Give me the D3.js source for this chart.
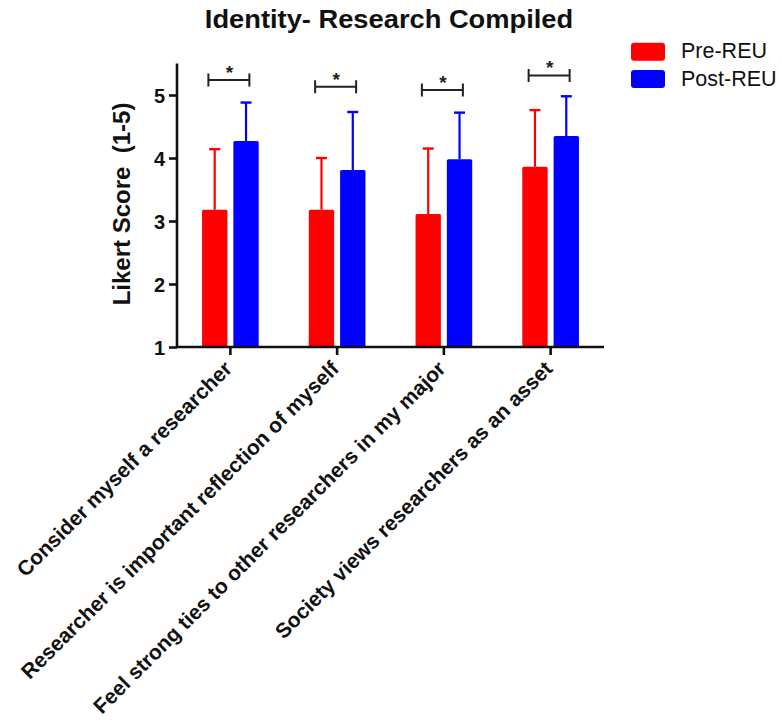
<!DOCTYPE html>
<html>
<head>
<meta charset="utf-8">
<script src="https://cdn.jsdelivr.net/npm/d3@7"></script>
<style>
  html, body { margin: 0; padding: 0; background: #fff; }
  svg { display: block; font-family: Arial, "Liberation Sans", sans-serif; }
</style>
</head>
<body>
<svg id="chart" width="782" height="724"></svg>
<script>
// Survey items (x categories)
const categories = [
  "Consider myself a researcher",
  "Researcher is important reflection of myself",
  "Feel strong ties to other researchers in my major",
  "Society views researchers as an asset"
];
const seriesNames = ["Pre-REU", "Post-REU"];
const seriesColors = ["#ff0000", "#0000ff"];

// Mean Likert scores and standard deviations
const preMean = [3.18, 3.18, 3.11, 3.86];
const preSD   = [0.96, 0.82, 1.04, 0.90];
const postMean = [4.27, 3.81, 3.98, 4.35];
const postSD   = [0.61, 0.92, 0.74, 0.63];

// Significance bracket heights (in score units) and labels
const bracketLevel = [5.24, 5.13, 5.08, 5.31];
const bracketLabel = ["*", "*", "*", "*"];

const yTicks = [1, 2, 3, 4, 5];

const svg = d3.select("#chart");

const plot = { left: 177, right: 604, top: 63.5, bottom: 347 };

const y = d3.scaleLinear().domain([1, 5.5]).range([plot.bottom, plot.top]);
const x = d3.scaleBand().domain(categories).range([plot.left, plot.right]).padding(0);
const xs = d3.scaleBand().domain(seriesNames).range([0, x.bandwidth()])
  .paddingInner(0.19).paddingOuter(0.8);

const rows = categories.map((c, i) => ({
  cat: c,
  values: [
    { s: seriesNames[0], mean: preMean[i], sd: preSD[i], color: seriesColors[0] },
    { s: seriesNames[1], mean: postMean[i], sd: postSD[i], color: seriesColors[1] }
  ]
}));

// Title
svg.append("text")
  .attr("transform", "translate(389,28) scale(1.05,1)")
  .attr("text-anchor", "middle")
  .attr("font-size", 26).attr("font-weight", "bold").attr("fill", "#111")
  .text("Identity- Research Compiled");

// Bars and upper error bars
const groups = svg.append("g").selectAll("g").data(rows).join("g")
  .attr("transform", d => `translate(${x(d.cat)},0)`);

groups.selectAll("line.err").data(d => d.values).join("line")
  .attr("class", "err")
  .attr("x1", d => xs(d.s) + xs.bandwidth() / 2)
  .attr("x2", d => xs(d.s) + xs.bandwidth() / 2)
  .attr("y1", d => y(d.mean))
  .attr("y2", d => y(d.mean + d.sd))
  .attr("stroke", d => d.color).attr("stroke-width", 2.2);

groups.selectAll("line.cap").data(d => d.values).join("line")
  .attr("class", "cap")
  .attr("x1", d => xs(d.s) + xs.bandwidth() / 2 - 5.5)
  .attr("x2", d => xs(d.s) + xs.bandwidth() / 2 + 5.5)
  .attr("y1", d => y(d.mean + d.sd))
  .attr("y2", d => y(d.mean + d.sd))
  .attr("stroke", d => d.color).attr("stroke-width", 2.4);

groups.selectAll("rect").data(d => d.values).join("rect")
  .attr("x", d => xs(d.s))
  .attr("width", xs.bandwidth())
  .attr("y", d => y(d.mean))
  .attr("height", d => y(1) - y(d.mean))
  .attr("rx", 1.5)
  .attr("fill", d => d.color);

// Significance brackets
const br = svg.append("g").selectAll("g").data(categories).join("g")
  .attr("transform", (d, i) => `translate(${x(d) + x.bandwidth() / 2},${y(bracketLevel[i])})`);
br.append("path")
  .attr("d", "M-22,-6.5V6.5M-22,0H19M19,-6.5V6.5")
  .attr("fill", "none").attr("stroke", "#222").attr("stroke-width", 2);
br.append("text")
  .attr("x", -1).attr("y", -1)
  .attr("text-anchor", "middle")
  .attr("font-size", 19).attr("font-weight", "bold")
  .attr("fill", "#222")
  .text((d, i) => bracketLabel[i]);

// Y axis
const yAxis = svg.append("g")
  .attr("transform", `translate(${plot.left},0)`)
  .call(d3.axisLeft(y).tickValues(yTicks).tickFormat(d3.format("d")).tickSize(8).tickPadding(4));
yAxis.select(".domain").attr("stroke", "#111").attr("stroke-width", 2.6)
  .attr("d", `M0,${plot.top}V${plot.bottom}`);
yAxis.selectAll(".tick line").attr("stroke", "#111").attr("stroke-width", 2.6);
yAxis.selectAll(".tick text")
  .attr("font-family", "Arial, 'Liberation Sans', sans-serif")
  .attr("font-size", 20).attr("font-weight", "bold").attr("fill", "#111")
  .attr("dy", "0.36em");

// X axis
const xAxis = svg.append("g")
  .attr("transform", `translate(0,${plot.bottom})`)
  .call(d3.axisBottom(x).tickSize(8).tickFormat(""));
xAxis.select(".domain").attr("stroke", "#111").attr("stroke-width", 2.6)
  .attr("d", `M${plot.left},0H${plot.right}`);
xAxis.selectAll(".tick line").attr("stroke", "#111").attr("stroke-width", 2.6);

// Rotated category labels
svg.append("g").selectAll("text").data(categories).join("text")
  .attr("transform", d => `translate(${x(d) + x.bandwidth() / 2 + 3},${plot.bottom + 23}) rotate(-45)`)
  .attr("text-anchor", "end")
  .attr("font-size", 21).attr("font-weight", "bold").attr("fill", "#111")
  .text(d => d);

// Y axis title
svg.append("text")
  .attr("transform", `translate(130,204) rotate(-90)`)
  .attr("text-anchor", "middle")
  .attr("font-size", 24).attr("font-weight", "bold").attr("fill", "#111")
  .style("white-space", "pre")
  .text("Likert Score  (1-5)");

// Legend
const legend = svg.append("g").selectAll("g").data(seriesNames).join("g")
  .attr("transform", (d, i) => `translate(631,${42.7 + i * 27.3})`);
legend.append("rect")
  .attr("width", 34).attr("height", 18).attr("rx", 3)
  .attr("fill", (d, i) => seriesColors[i]);
legend.append("text")
  .attr("x", 50).attr("y", 15.5)
  .attr("font-size", 21.5).attr("fill", "#111")
  .text(d => d);
</script>
</body>
</html>
